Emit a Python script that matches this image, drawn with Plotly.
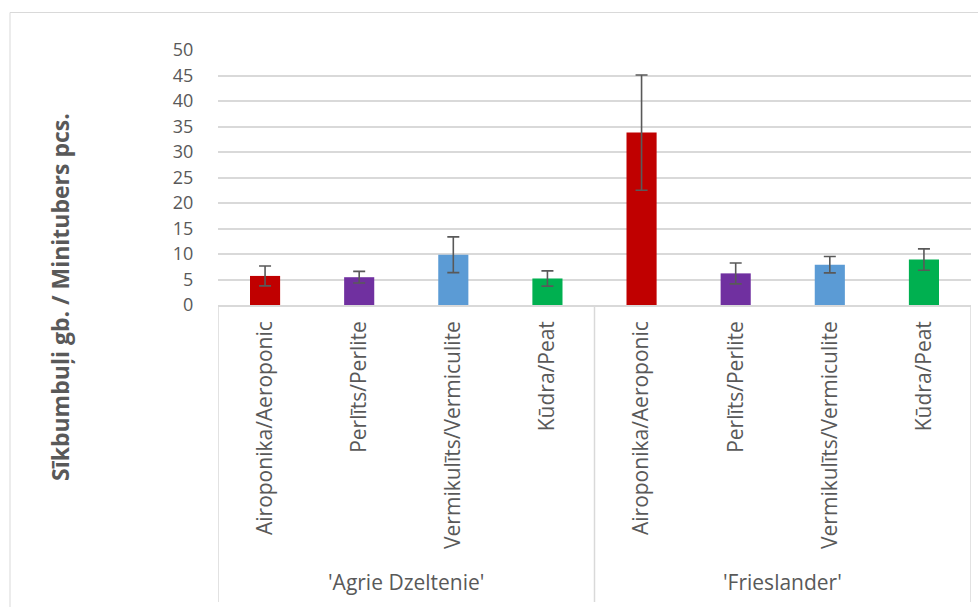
import plotly.graph_objects as go

groups = ["'Agrie Dzeltenie'", "'Frieslander'"]
substrates = ["Airoponika/Aeroponic", "Perlīts/Perlite", "Vermikulīts/Vermiculite", "Kūdra/Peat"]
values = [5.7, 5.45, 9.85, 5.2, 33.8, 6.2, 7.9, 8.9]
errors = [1.95, 1.15, 3.5, 1.5, 11.3, 2.05, 1.6, 2.1]
colors = ["#C00000", "#7030A0", "#5B9BD5", "#00B050"]
y_ticks = [0, 5, 10, 15, 20, 25, 30, 35, 40, 45, 50]
y_title = "Sīkbumbuļi gb. / Minitubers pcs."

n_sub = len(substrates)
xpos = list(range(len(values)))
tick_text = substrates * len(groups)
bar_colors = colors * len(groups)

W, H = 978, 607
L, R, T, B = 218, 7, 50, 302
pw, ph = W - L - R, H - T - B

def px_x(px):
    return (px - L) / pw

def px_y(py):
    return (H - B - py) / ph

fig = go.Figure()
fig.add_trace(go.Bar(
    x=xpos,
    y=values,
    marker=dict(color=bar_colors, line=dict(width=0)),
    width=0.32,
    error_y=dict(type="data", array=errors, visible=True, color="#595959", thickness=1.6, width=6),
))

shapes = [dict(
    type="rect", xref="paper", yref="paper",
    x0=px_x(10), x1=px_x(990), y0=px_y(620), y1=px_y(12.5),
    line=dict(color="#D9D9D9", width=1), fillcolor="rgba(0,0,0,0)", layer="below",
)]
for g in range(len(groups) + 1):
    xb = g * n_sub - 0.5
    shapes.append(dict(
        type="line", xref="x", yref="paper", x0=xb, x1=xb, y0=0, y1=px_y(602),
        line=dict(color="#D9D9D9", width=1.5),
    ))

annotations = [dict(
    text="<b>" + y_title + "</b>", textangle=-90,
    xref="paper", yref="paper", x=px_x(60), y=px_y(297), xanchor="center", yanchor="middle",
    showarrow=False, font=dict(size=23, color="#595959"),
)]
for gi, gname in enumerate(groups):
    annotations.append(dict(
        text=gname, xref="x", yref="paper",
        x=gi * n_sub + (n_sub - 1) / 2, y=px_y(582),
        xanchor="center", yanchor="middle", showarrow=False,
        font=dict(size=21, color="#595959"),
    ))

fig.update_layout(
    width=W, height=H,
    margin=dict(l=L, r=R, t=T, b=B, autoexpand=False),
    paper_bgcolor="white", plot_bgcolor="white",
    showlegend=False,
    font=dict(family="Open Sans, Liberation Sans, sans-serif", color="#595959", size=17),
    xaxis=dict(
        range=[-0.5, len(values) - 0.5],
        tickvals=xpos, ticktext=tick_text, tickangle=-90,
        showline=True, linecolor="#D9D9D9", linewidth=1.5,
        showgrid=False, zeroline=False,
        ticks="outside", ticklen=6, tickcolor="rgba(0,0,0,0)",
        tickfont=dict(size=21, color="#595959"),
    ),
    yaxis=dict(
        range=[0, 50], tickvals=y_ticks,
        showgrid=True, gridcolor="#D9D9D9", gridwidth=1.5,
        zeroline=False, showline=False,
        ticks="outside", ticklen=20, tickcolor="rgba(0,0,0,0)",
        tickfont=dict(size=18, color="#595959"),
    ),
    annotations=annotations,
    shapes=shapes,
)

fig.write_html(
    "out.html",
    config={"displayModeBar": False},
    post_script="document.body.style.margin='0';document.body.style.padding='0';",
)
